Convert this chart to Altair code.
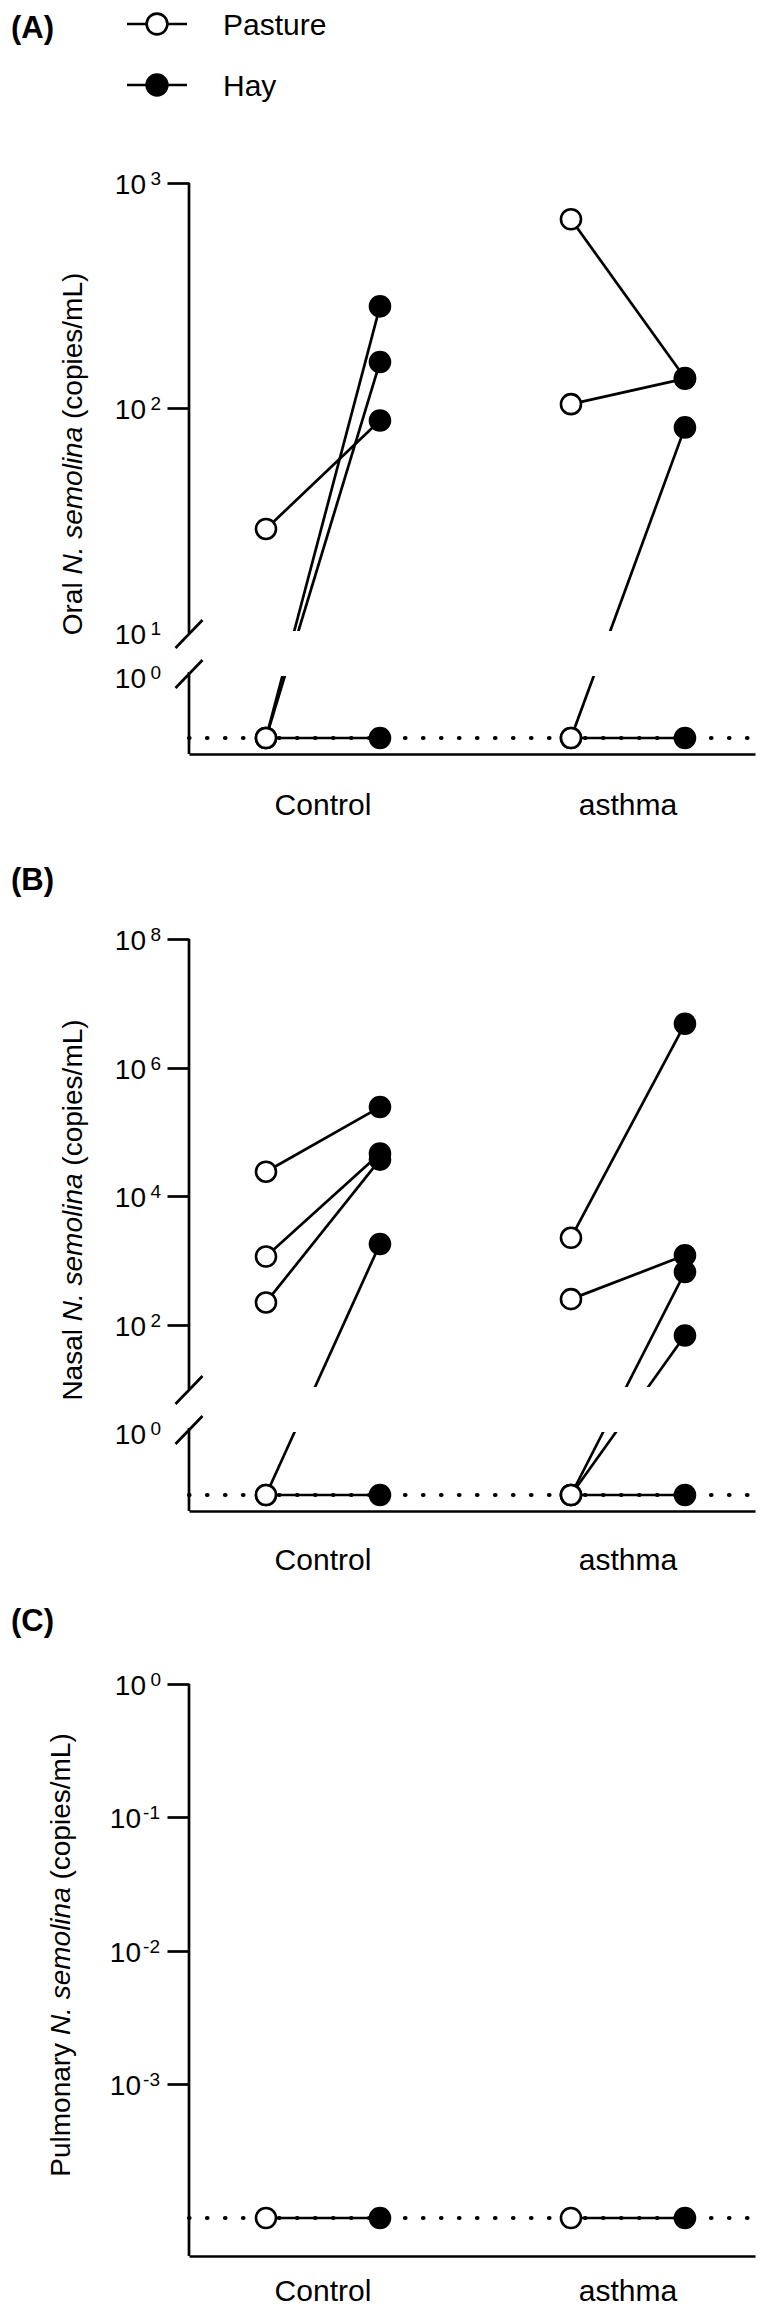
import math
import altair as alt
import pandas as pd

FONT = "Liberation Sans"

GROUPS = ["Control", "asthma"]
TREATMENTS = ["Pasture", "Hay"]

# copies/mL for each animal, paired pasture -> hay ; None = not detected
ORAL_CONTROL_PASTURE = [29, None, None, None]
ORAL_CONTROL_HAY = [88, 283, 160, None]
ORAL_ASTHMA_PASTURE = [690, 104, None, None]
ORAL_ASTHMA_HAY = [136, 135, 82, None]

NASAL_CONTROL_PASTURE = [24000, 1150, 222, None, None]
NASAL_CONTROL_HAY = [243000, 46000, 37000, 1800, None]
NASAL_ASTHMA_PASTURE = [2250, 250, None, None, None]
NASAL_ASTHMA_HAY = [4800000, 1200, 660, 68, None]

PULM_CONTROL_PASTURE = [None]
PULM_CONTROL_HAY = [None]
PULM_ASTHMA_PASTURE = [None]
PULM_ASTHMA_HAY = [None]

ND_BROKEN = 0.5    # level where non-detects are drawn (panels A, B)
ND_PULM = 1e-4     # level where non-detects are drawn (panel C)

A_TICKS = [100, 1000]
A_LABELS = [1000, 100, 10]
B_TICKS = [1e2, 1e4, 1e6, 1e8]
B_LABELS = [1e8, 1e6, 1e4, 1e2]
LOW_LABELS = [1]
C_TICKS = [1e-3, 1e-2, 1e-1, 1]
C_LABELS_POS = [1]
C_LABELS_NEG = [1e-1, 1e-2, 1e-3]

W = 566
LW = 2.7
BAND = dict(paddingInner=0.5, paddingOuter=0.1779, align=0.532)
OFFSET_PAD = 0.1689

AW = {" ": 278, "(": 333, ")": 333, ".": 278, "/": 278, "O": 778, "N": 722, "P": 667,
      "L": 556, "a": 556, "c": 500, "e": 556, "i": 222, "l": 222, "m": 833, "n": 556,
      "o": 556, "p": 556, "r": 333, "s": 500, "u": 556, "y": 500}


def tw(s, fs):
    return sum(AW.get(c, 556) for c in s) * fs / 1000.0


def long_table(cp, ch, ap, ah, nd):
    rows = []
    for g, pas, hay in ((GROUPS[0], cp, ch), (GROUPS[1], ap, ah)):
        for i, pair in enumerate(zip(pas, hay)):
            for t, v in zip(TREATMENTS, pair):
                rows.append({"group": g, "treatment": t, "subject": f"{g}{i}",
                             "copies": v, "plotted": nd if v is None else v})
    return pd.DataFrame(rows)


def one(**kw):
    return pd.DataFrame([kw if kw else {"k": 0}])


fill_scale = alt.Scale(domain=TREATMENTS, range=["white", "black"])


def tick_labels(vals, ys, base_x, exp_x, dy):
    d = pd.DataFrame({"v": vals, "exp": [str(int(round(math.log10(v)))) for v in vals]})
    return [
        alt.Chart(d).mark_text(align="right", baseline="alphabetic", fontSize=28, font=FONT,
                               color="black", dy=dy + 11).encode(
            x=alt.value(base_x), y=alt.Y("v:Q", scale=ys), text=alt.value("10")),
        alt.Chart(d).mark_text(align="right", baseline="alphabetic", fontSize=19, font=FONT,
                               color="black", dy=dy + 2).encode(
            x=alt.value(exp_x), y=alt.Y("v:Q", scale=ys), text="exp:N"),
    ]


def panel(df, ys, dom_min, top_val, height, ticks, label_layers, nd, letter, letter_y,
          title_pieces, title_x, label_pad, frame, broken, legend=False):
    layers = []
    layers.append(alt.Chart(one()).mark_rect(opacity=0).encode(
        x=alt.value(-181), x2=alt.value(W + 2), y=alt.value(frame[0]), y2=alt.value(frame[1])))

    x_enc = alt.X("group:N", sort=GROUPS, scale=alt.Scale(domain=GROUPS, **BAND),
                  axis=alt.Axis(title=None, ticks=False, tickSize=0, labelAngle=0, labelFontSize=30,
                                labelFont=FONT, labelColor="black", labelPadding=label_pad,
                                domainColor="black", domainWidth=LW, grid=False, zindex=1))
    xo_enc = alt.XOffset("treatment:N", sort=TREATMENTS,
                         scale=alt.Scale(type="point", domain=TREATMENTS, padding=OFFSET_PAD))
    y_enc = alt.Y("plotted:Q", scale=ys,
                  axis=alt.Axis(title=None, values=ticks, labels=False, domain=False, grid=False,
                                tickSize=22, tickWidth=LW, tickColor="black", zindex=1))
    base = alt.Chart(df)
    layers.append(base.mark_line(color="black", strokeWidth=LW).encode(
        x=x_enc, xOffset=xo_enc, y=y_enc, detail="subject:N"))
    if broken:
        layers.append(alt.Chart(one()).mark_rect(color="white", yOffset=-2, y2Offset=4).encode(
            x=alt.value(3), x2=alt.value(W), y=alt.YDatum(10, scale=ys), y2=alt.Y2Datum(1)))
    layers.append(alt.Chart(one()).mark_rule(color="black", strokeWidth=4.2, strokeDash=[0.5, 17.5],
                                             strokeCap="round").encode(
        x=alt.value(0), x2=alt.value(W - 3), y=alt.YDatum(nd, scale=ys)))
    layers.append(base.mark_point(shape="circle", filled=True, size=400, stroke="black",
                                  strokeWidth=2.6, opacity=1).encode(
        x=x_enc, xOffset=xo_enc, y=y_enc,
        fill=alt.Fill("treatment:N", scale=fill_scale, legend=None)))

    rule = dict(color="black", strokeWidth=LW)
    if broken:
        layers.append(alt.Chart(one()).mark_rule(**rule).encode(
            x=alt.value(0), y=alt.YDatum(10, scale=ys), y2=alt.Y2Datum(top_val)))
        layers.append(alt.Chart(one()).mark_rule(**rule).encode(
            x=alt.value(0), y=alt.YDatum(1, scale=ys), y2=alt.Y2Datum(dom_min)))
        layers.append(alt.Chart(one()).mark_rule(yOffset=15, y2Offset=-13, **rule).encode(
            x=alt.value(-13.5), x2=alt.value(13.5), y=alt.YDatum(10, scale=ys), y2=alt.Y2Datum(10)))
        layers.append(alt.Chart(one()).mark_rule(yOffset=16, y2Offset=-12, **rule).encode(
            x=alt.value(-13.5), x2=alt.value(13.5), y=alt.YDatum(1, scale=ys), y2=alt.Y2Datum(1)))
    else:
        layers.append(alt.Chart(one()).mark_rule(**rule).encode(
            x=alt.value(0), y=alt.YDatum(dom_min, scale=ys), y2=alt.Y2Datum(top_val)))

    layers.extend(label_layers)

    # y title in pieces (italic species name)
    fs = 28
    total = sum(tw(s, fs) for s, _ in title_pieces)
    y0 = 271 + total / 2.0
    for s, italic in title_pieces:
        lead = len(s) - len(s.lstrip())
        anchor = y0 - tw(s[:lead], fs)
        layers.append(alt.Chart(one()).mark_text(
            angle=270, align="left", baseline="alphabetic", fontSize=fs, font=FONT, color="black",
            fontStyle="italic" if italic else "normal").encode(
            x=alt.value(title_x), y=alt.value(anchor), text=alt.value(s.strip())))
        y0 -= tw(s, fs)

    layers.append(alt.Chart(one()).mark_text(
        align="left", baseline="alphabetic", fontSize=31, fontWeight="bold", font=FONT,
        color="black").encode(x=alt.value(-178), y=alt.value(letter_y), text=alt.value(letter)))

    if legend:
        for t, ry in zip(TREATMENTS, [-159, -98]):
            d = one(treatment=t)
            layers.append(alt.Chart(d).mark_rule(**rule).encode(
                x=alt.value(-62), x2=alt.value(-2), y=alt.value(ry)))
            layers.append(alt.Chart(d).mark_point(shape="circle", filled=True, size=430,
                                                  stroke="black", strokeWidth=2.6, opacity=1).encode(
                x=alt.value(-32), y=alt.value(ry),
                fill=alt.Fill("treatment:N", scale=fill_scale, legend=None)))
            layers.append(alt.Chart(d).mark_text(align="left", baseline="alphabetic", fontSize=30,
                                                 font=FONT, color="black").encode(
                x=alt.value(34), y=alt.value(ry + 11), text="treatment:N"))

    return alt.layer(*layers).properties(width=W, height=height)


# ---- Panel A: oral ----
ys_a = alt.Scale(type="log", domain=[0.4, ND_BROKEN, 1, 10, 1000], range=[571, 555, 489, 450, 0],
                 nice=False, zero=False)
df_a = long_table(ORAL_CONTROL_PASTURE, ORAL_CONTROL_HAY, ORAL_ASTHMA_PASTURE, ORAL_ASTHMA_HAY, ND_BROKEN)
chart_a = panel(df_a, ys_a, 0.4, 1000, 571, A_TICKS,
                tick_labels(A_LABELS, ys_a, -43, -28, 0) + tick_labels(LOW_LABELS, ys_a, -43, -28, 5),
                ND_BROKEN, "(A)", -145,
                [("Oral ", False), ("N. semolina", True), (" (copies/mL)", False)],
                -107, 36, (-174, 663), True, legend=True)

# ---- Panel B: nasal ----
ys_b = alt.Scale(type="log", domain=[0.4, ND_BROKEN, 1, 10, 1e8], range=[572, 556, 489, 450, 0],
                 nice=False, zero=False)
df_b = long_table(NASAL_CONTROL_PASTURE, NASAL_CONTROL_HAY, NASAL_ASTHMA_PASTURE, NASAL_ASTHMA_HAY, ND_BROKEN)
chart_b = panel(df_b, ys_b, 0.4, 1e8, 572, B_TICKS,
                tick_labels(B_LABELS, ys_b, -43, -28, 0) + tick_labels(LOW_LABELS, ys_b, -43, -28, 5),
                ND_BROKEN, "(B)", -49,
                [("Nasal ", False), ("N. semolina", True), (" (copies/mL)", False)],
                -107, 34, (-93, 662), True)

# ---- Panel C: pulmonary ----
C_MIN = 5.19e-5
ys_c = alt.Scale(type="log", domain=[C_MIN, 1], range=[572, 0], nice=False, zero=False)
df_c = long_table(PULM_CONTROL_PASTURE, PULM_CONTROL_HAY, PULM_ASTHMA_PASTURE, PULM_ASTHMA_HAY, ND_PULM)
chart_c = panel(df_c, ys_c, C_MIN, 1, 572, C_TICKS,
                tick_labels(C_LABELS_POS, ys_c, -43, -28, 0) + tick_labels(C_LABELS_NEG, ys_c, -48, -29, 0),
                ND_PULM, "(C)", -53,
                [("Pulmonary ", False), ("N. semolina", True), (" (copies/mL)", False)],
                -119, 20, (-83, 623), False)

chart = (alt.vconcat(chart_a, chart_b, chart_c, spacing=0)
         .resolve_scale(y="independent", x="independent")
         .properties(padding=0)
         .configure(font=FONT)
         .configure_view(stroke=None))

chart.save("out.html", embed_options={"renderer": "svg", "actions": False})
